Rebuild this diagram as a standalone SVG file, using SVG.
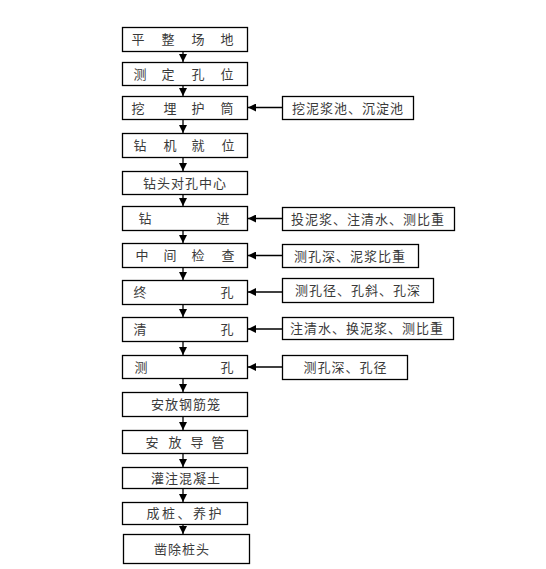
<svg xmlns="http://www.w3.org/2000/svg" width="546" height="569" viewBox="0 0 546 569">
<defs>
<marker id="ah" markerUnits="userSpaceOnUse" markerWidth="9" markerHeight="8" refX="8" refY="4" orient="auto">
<path d="M0,0 L8,4 L0,8 Z" fill="#000"/>
</marker>
<style>
.b{fill:#fff;stroke:#000;stroke-width:1.3}
text{font-family:"Noto Sans CJK SC","Liberation Sans",sans-serif;font-size:13px;fill:#3a3a3a}
.c{text-anchor:middle;letter-spacing:1px}
.s{text-anchor:middle}
line{stroke:#000;stroke-width:1.3;marker-end:url(#ah)}
</style>
</defs>
<rect width="546" height="569" fill="#fff"/>
<g id="n1"><rect class="b" x="122.5" y="27.5" width="125" height="24"/><text class="s" x="138 168 198 227" y="44">平整场地</text></g>
<g id="n2"><rect class="b" x="122.5" y="62.5" width="125" height="23"/><text class="s" x="140 168 198 227" y="78.5">测定孔位</text></g>
<g id="n3"><rect class="b" x="122.5" y="96.5" width="125" height="23"/><text class="s" x="138 170 198 227" y="112.5">挖埋护筒</text></g>
<g id="n4"><rect class="b" x="122.5" y="133.5" width="125" height="24"/><text class="s" x="140 170 198 228" y="150">钻机就位</text></g>
<g id="n5"><rect class="b" x="122.5" y="171.5" width="125" height="23"/><text class="c" x="185" y="187.5">钻头对孔中心</text></g>
<g id="n6"><rect class="b" x="122.5" y="206.5" width="125" height="24"/><text class="s" x="145 223" y="223">钻进</text></g>
<g id="n7"><rect class="b" x="122.5" y="243.5" width="125" height="24"/><text class="s" x="142 170 198 228" y="260">中间检查</text></g>
<g id="n8"><rect class="b" x="122.5" y="280.5" width="125" height="24"/><text class="s" x="140 227" y="297">终孔</text></g>
<g id="n9"><rect class="b" x="122.5" y="317.5" width="125" height="24"/><text class="s" x="140 227" y="334">清孔</text></g>
<g id="n10"><rect class="b" x="122.5" y="355.5" width="125" height="23"/><text class="s" x="141 227" y="371.5">测孔</text></g>
<g id="n11"><rect class="b" x="122.5" y="392.5" width="125" height="24"/><text class="c" x="186" y="409">安放钢筋笼</text></g>
<g id="n12"><rect class="b" x="122.5" y="430.5" width="125" height="23"/><text class="s" x="152 175 197 218" y="446.5">安放导管</text></g>
<g id="n13"><rect class="b" x="122.5" y="467.5" width="125" height="21"/><text class="c" x="186" y="482.5">灌注混凝土</text></g>
<g id="n14"><rect class="b" x="122.5" y="502.5" width="125" height="22"/><text class="s" x="153 168.5 184 199.5 215" y="518">成桩、养护</text></g>
<g id="n15"><rect class="b" x="123.5" y="534.5" width="126" height="29"/><text class="c" x="182" y="553.5">凿除桩头</text></g>
<g id="a1"><rect class="b" x="282.5" y="96.5" width="131" height="23"/><text class="c" x="348" y="112.5">挖泥浆池、沉淀池</text></g>
<g id="a2"><rect class="b" x="282.5" y="207.5" width="172" height="23"/><text class="c" x="368" y="223.5">投泥浆、注清水、测比重</text></g>
<g id="a3"><rect class="b" x="282.5" y="244.5" width="136" height="23"/><text class="c" x="350" y="260.5">测孔深、泥浆比重</text></g>
<g id="a4"><rect class="b" x="282.5" y="278.5" width="151" height="24"/><text class="c" x="358" y="295">测孔径、孔斜、孔深</text></g>
<g id="a5"><rect class="b" x="282.5" y="317.5" width="171" height="22"/><text class="c" x="367" y="333">注清水、换泥浆、测比重</text></g>
<g id="a6"><rect class="b" x="282.5" y="355.5" width="125" height="24"/><text class="c" x="345.5" y="372">测孔深、孔径</text></g>
<g id="connectors">
<line x1="183" y1="52" x2="183" y2="62"/>
<line x1="183" y1="86" x2="183" y2="96"/>
<line x1="183" y1="120" x2="183" y2="133"/>
<line x1="183" y1="158" x2="183" y2="171"/>
<line x1="183" y1="195" x2="183" y2="206"/>
<line x1="183" y1="231" x2="183" y2="243"/>
<line x1="183" y1="268" x2="183" y2="280"/>
<line x1="183" y1="305" x2="183" y2="317"/>
<line x1="183" y1="342" x2="183" y2="355"/>
<line x1="183" y1="379" x2="183" y2="392"/>
<line x1="183" y1="417" x2="183" y2="430"/>
<line x1="183" y1="454" x2="183" y2="467"/>
<line x1="183" y1="489" x2="183" y2="502"/>
<line x1="183" y1="525" x2="183" y2="534"/>
<line x1="282" y1="107.5" x2="248" y2="107.5"/>
<line x1="282" y1="218.5" x2="248" y2="218.5"/>
<line x1="282" y1="255.5" x2="248" y2="255.5"/>
<line x1="282" y1="292" x2="248" y2="292"/>
<line x1="282" y1="329" x2="248" y2="329"/>
<line x1="282" y1="367" x2="248" y2="367"/>
</g>
</svg>
